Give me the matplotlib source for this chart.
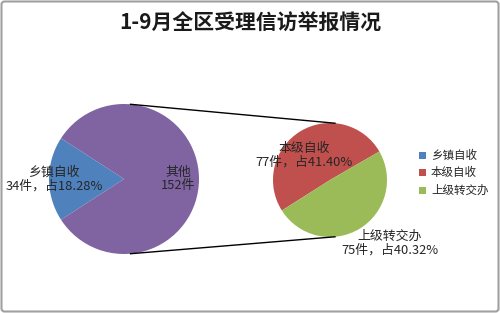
import matplotlib
matplotlib.use('Agg')
import numpy as np
import matplotlib.pyplot as plt
from matplotlib.patches import FancyBboxPatch, Rectangle

plt.rcParams['font.family'] = ['Noto Sans CJK SC', 'DejaVu Sans']

title = '1-9月全区受理信访举报情况'
# primary pie: 乡镇自收 + 其他 (其他 split in the secondary pie)
main_labels = ['乡镇自收', '其他']
main_values = [34, 152]
sub_labels = ['本级自收', '上级转交办']
sub_values = [77, 75]
legend_labels = ['乡镇自收', '本级自收', '上级转交办']

blue = '#4F81BD'
purple = '#8064A2'
red = '#C0504D'
green = '#9BBB59'

H = 313
fig = plt.figure(figsize=(5.0, 3.13), dpi=100)
ax = fig.add_axes([0, 0, 1, 1])

total = float(sum(main_values))

# left pie, blue wedge centred on the left side
c1 = (124, H - 179)
r1 = 75
start1 = 180 - 360 * main_values[0] / total / 2
ax.pie(main_values, colors=[blue, purple], center=c1, radius=r1,
       startangle=start1, counterclock=True, frame=True,
       wedgeprops=dict(linewidth=0))

# right pie
c2 = (330, H - 180)
r2 = 57
ax.pie(sub_values, colors=[red, green], center=c2, radius=r2,
       startangle=30, counterclock=True, frame=True,
       wedgeprops=dict(linewidth=0))

# connector lines
for a in [85, -85]:
    t = np.deg2rad(a)
    ax.plot([c1[0] + r1 * np.cos(t), c2[0] + r2 * np.cos(t)],
            [c1[1] + r1 * np.sin(t), c2[1] + r2 * np.sin(t)],
            color='black', lw=1.0, zorder=5)

fs = 9.3
# data labels
ax.text(c1[0] - 0.93 * r1, c1[1],
        '%s\n%d件，占%.2f%%' % (main_labels[0], main_values[0], main_values[0] / total * 100),
        ha='center', va='center', fontsize=fs, color='#262626', linespacing=1.05)
ax.text(c1[0] + 0.72 * r1, c1[1],
        '%s\n%d件' % (main_labels[1], main_values[1]),
        ha='center', va='center', fontsize=fs, color='#262626', linespacing=1.05)
ax.text(c2[0] - 26, c2[1] + 25,
        '%s\n%d件，占%.2f%%' % (sub_labels[0], sub_values[0], sub_values[0] / total * 100),
        ha='center', va='center', fontsize=fs, color='#262626', linespacing=1.05)
ax.text(c2[0] + 60, c2[1] - 63,
        '%s\n%d件，占%.2f%%' % (sub_labels[1], sub_values[1], sub_values[1] / total * 100),
        ha='center', va='center', fontsize=fs, color='#262626', linespacing=1.05)

# legend
for i, (lab, col) in enumerate(zip(legend_labels, [blue, red, green])):
    y = H - (155 + i * 17.5)
    ax.add_patch(Rectangle((419, y - 3.5), 7, 7, facecolor=col, edgecolor='none'))
    ax.text(431, y, lab, ha='left', va='center', fontsize=8.3, color='#262626')

ax.text(250, H - 22, title, ha='center', va='center', fontsize=15,
        fontweight='bold', color='#1a1a1a')

# outer frame
ax.add_patch(FancyBboxPatch((1.5, 1.5), 497, H - 3,
                            boxstyle='round,pad=0,rounding_size=3',
                            facecolor='none', edgecolor='#a0a0a0', lw=1.5))

ax.set_xlim(0, 500)
ax.set_ylim(0, H)
ax.set_aspect('auto')
ax.axis('off')

fig.savefig('out.png', dpi=100)
